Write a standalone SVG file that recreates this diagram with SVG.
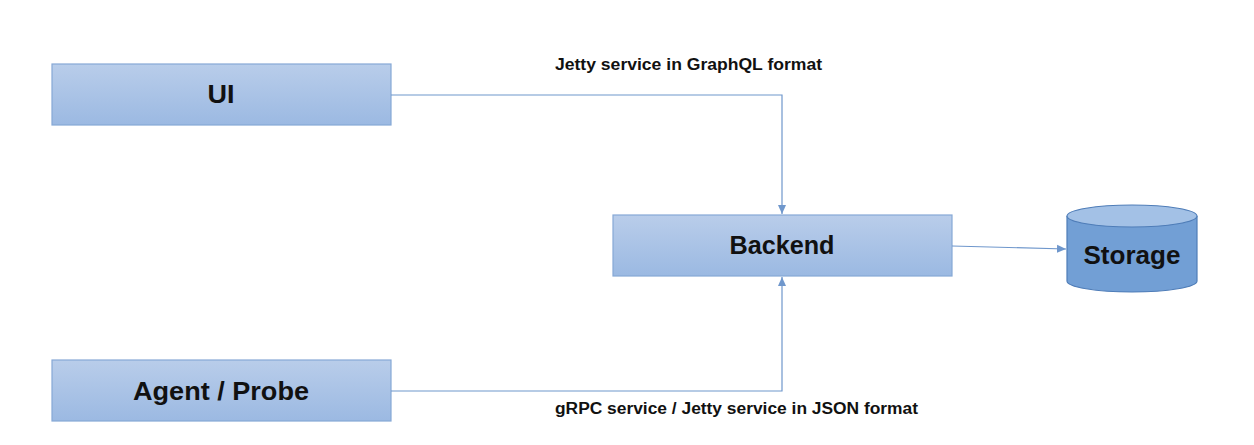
<svg xmlns="http://www.w3.org/2000/svg" width="1254" height="445" viewBox="0 0 1254 445">
<defs>
<linearGradient id="g" x1="0" y1="0" x2="0" y2="1">
<stop offset="0" stop-color="#b9cdea"/>
<stop offset="1" stop-color="#9bb9e2"/>
</linearGradient>
<marker id="arr" markerWidth="10" markerHeight="10" refX="9" refY="5" orient="auto" markerUnits="userSpaceOnUse">
<path d="M0,1 L9,5 L0,9 Z" fill="#6f97cc"/>
</marker>
<style>
.box{fill:url(#g);stroke:#86a8d6;stroke-width:1.2}
.lbl{font-family:"Liberation Sans",Arial,sans-serif;font-weight:bold;font-size:25px;fill:#111;text-anchor:middle}
.edge{font-family:"Liberation Sans",Arial,sans-serif;font-weight:bold;font-size:16px;fill:#111}
.con{fill:none;stroke:#6f97cc;stroke-width:1.2}
</style>
</defs>
<rect width="1254" height="445" fill="#fff"/>
<g id="ui">
<rect class="box" x="52" y="64" width="339" height="61"/>
<text class="lbl" x="221" y="103" textLength="27" lengthAdjust="spacingAndGlyphs">UI</text>
</g>
<g id="backend">
<rect class="box" x="613" y="215" width="339" height="61"/>
<text class="lbl" x="782" y="254" textLength="105" lengthAdjust="spacingAndGlyphs">Backend</text>
</g>
<g id="agent">
<rect class="box" x="52" y="360" width="339" height="61"/>
<text class="lbl" x="221" y="400" textLength="176" lengthAdjust="spacingAndGlyphs">Agent / Probe</text>
</g>
<g id="storage">
<path d="M1067,216 L1067,281 A65,11 0 0 0 1197,281 L1197,216" fill="#729fd5" stroke="#4f7db8" stroke-width="1.2"/>
<ellipse cx="1132" cy="216" rx="65" ry="11" fill="#a3c1e6" stroke="#4f7db8" stroke-width="1.2"/>
<text class="lbl" x="1132" y="264" textLength="97" lengthAdjust="spacingAndGlyphs">Storage</text>
</g>
<g id="connectors">
<path class="con" d="M391,95 L782,95 L782,214" marker-end="url(#arr)"/>
<path class="con" d="M391,391 L782,391 L782,277" marker-end="url(#arr)"/>
<path class="con" d="M952,246 L1066,249" marker-end="url(#arr)"/>
<text class="edge" x="555" y="70" textLength="267" lengthAdjust="spacingAndGlyphs">Jetty service in GraphQL format</text>
<text class="edge" x="555" y="414" textLength="363" lengthAdjust="spacingAndGlyphs">gRPC service / Jetty service in JSON format</text>
</g>
</svg>
